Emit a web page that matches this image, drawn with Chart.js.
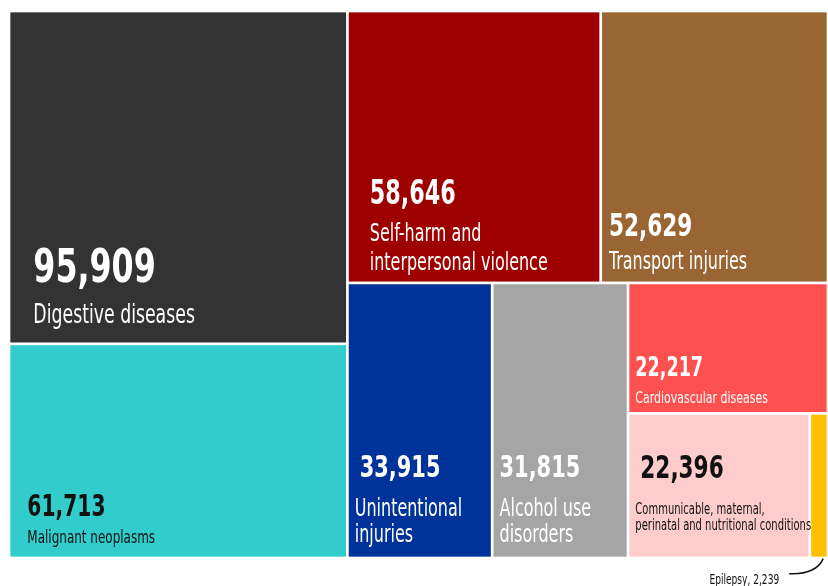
<!DOCTYPE html>
<html>
<head>
<meta charset="utf-8">
<script src="https://cdn.jsdelivr.net/npm/chart.js@4"></script>
<style>
  html, body { margin: 0; padding: 0; background: #fff; overflow: hidden; }
  .chart-box { position: relative; width: 828px; height: 586px; }
</style>
</head>
<body>
<div class="chart-box"><canvas id="treeChart"></canvas></div>
<script>
// deaths by cause, in the order the cells are packed
const causes = [
  'Digestive diseases',
  'Malignant neoplasms',
  'Self-harm and\ninterpersonal violence',
  'Transport injuries',
  'Unintentional\ninjuries',
  'Alcohol use\ndisorders',
  'Cardiovascular diseases',
  'Communicable, maternal,\nperinatal and nutritional conditions',
  'Epilepsy'
];
const deaths = [95909, 61713, 58646, 52629, 33915, 31815, 22217, 22396, 2239];
const colors = ['#333333', '#33cccc', '#9e0000', '#996633', '#003399', '#a5a5a5', '#ff5050', '#ffcccc', '#ffc000'];

// text placement inside each cell, measured from the cell's bottom-left corner
const labelStyle = [
  { ink: '#fff', vx: 23, vy: 60, vs: 47, lx: 23, ly: [19], ls: 26 },
  { ink: '#111', vx: 17, vy: 41, vs: 30, lx: 17, ly: [14], ls: 18 },
  { ink: '#fff', vx: 21, vy: 78, vs: 33, lx: 21, ly: [41, 11.5], ls: 24 },
  { ink: '#fff', vx: 7, vy: 46, vs: 32, lx: 7, ly: [12.7], ls: 24 },
  { ink: '#fff', vx: 11, vy: 80, vs: 31, lx: 6, ly: [41, 15], ls: 24 },
  { ink: '#fff', vx: 6, vy: 80, vs: 31, lx: 6, ly: [41, 15], ls: 24 },
  { ink: '#fff', vx: 6, vy: 36, vs: 26, lx: 6, ly: [9.4], ls: 16.5 },
  { ink: '#111', vx: 11, vy: 79, vs: 32, lx: 6, ly: [43, 27], ls: 15 },
  null
];

const fontFamily = "'DejaVu Sans Condensed', 'DejaVu Sans', sans-serif";
const valueSqueeze = 0.75;
const labelSqueeze = 0.74;
const gap = 2.7;

function worst(row, side) {
  const s = row.reduce((a, b) => a + b, 0);
  const mx = Math.max(...row), mn = Math.min(...row);
  return Math.max(side * side * mx / (s * s), s * s / (side * side * mn));
}

// squarified treemap, in scale units
function squarify(values, x, y, w, h) {
  const total = values.reduce((a, b) => a + b, 0);
  const areas = values.map(v => v * w * h / total);
  const rects = [];
  let i = 0;
  while (i < areas.length) {
    const side = Math.min(w, h);
    let row = [areas[i]];
    let j = i + 1;
    while (j < areas.length) {
      const next = row.concat(areas[j]);
      if (worst(next, side) > worst(row, side)) break;
      row = next;
      j++;
    }
    const thick = row.reduce((a, b) => a + b, 0) / side;
    let off = 0;
    row.forEach(a => {
      const len = a / thick;
      if (w >= h) rects.push({ x: x, y: y + off, w: thick, h: len });
      else rects.push({ x: x + off, y: y, w: len, h: thick });
      off += len;
    });
    if (w >= h) { x += thick; w -= thick; } else { y += thick; h -= thick; }
    i = j;
  }
  return rects;
}

// narrow text: the condensed face squeezed a bit more horizontally
function drawText(ctx, str, x, y, size, weight, color, squeeze, align) {
  ctx.save();
  ctx.translate(x, y);
  ctx.scale(squeeze, 1);
  ctx.font = weight + ' ' + size + 'px ' + fontFamily;
  ctx.fillStyle = color;
  ctx.textAlign = align || 'left';
  ctx.textBaseline = 'alphabetic';
  ctx.fillText(str, 0, 0);
  ctx.restore();
}

const treemapPlugin = {
  id: 'treemapCells',
  afterDatasetsDraw(chart) {
    const ctx = chart.ctx;
    const xs = chart.scales.x, ys = chart.scales.y;
    const rects = squarify(deaths, xs.min, ys.min, xs.max - xs.min, ys.max - ys.min);

    rects.forEach((r, i) => {
      const left = xs.getPixelForValue(r.x) + gap / 2;
      const right = xs.getPixelForValue(r.x + r.w) - gap / 2;
      const top = ys.getPixelForValue(r.y) + gap / 2;
      const bottom = ys.getPixelForValue(r.y + r.h) - gap / 2;
      ctx.fillStyle = colors[i];
      ctx.fillRect(left, top, right - left, bottom - top);

      const st = labelStyle[i];
      const value = deaths[i].toLocaleString('en-US');
      if (st) {
        drawText(ctx, value, left + st.vx, bottom - st.vy, st.vs, 'bold', st.ink, valueSqueeze);
        causes[i].split('\n').forEach((line, k) => {
          drawText(ctx, line, left + st.lx, bottom - st.ly[k], st.ls, 'normal', st.ink, labelSqueeze);
        });
      } else {
        // too small to hold text: label below with a leader line
        drawText(ctx, causes[i] + ', ' + value, left - 32, bottom + 27, 14, 'normal', '#111', 0.72, 'right');
        ctx.save();
        ctx.beginPath();
        ctx.moveTo(left - 22, bottom + 17);
        ctx.bezierCurveTo(left - 4, bottom + 18, left + 8, bottom + 12, left + 12, bottom + 2);
        ctx.strokeStyle = '#111';
        ctx.lineWidth = 1.5;
        ctx.stroke();
        ctx.restore();
      }
    });
  }
};

new Chart(document.getElementById('treeChart'), {
  type: 'scatter',
  data: {
    labels: causes,
    datasets: [{ data: [] }]
  },
  options: {
    responsive: true,
    maintainAspectRatio: false,
    animation: false,
    events: [],
    layout: {
      autoPadding: false,
      padding: { left: 9, top: 11, right: 0, bottom: 28 }
    },
    scales: {
      x: { type: 'linear', min: 0, max: 819, display: false },
      y: { type: 'linear', min: 0, max: 547, reverse: true, display: false }
    },
    plugins: {
      legend: { display: false },
      tooltip: { enabled: false }
    }
  },
  plugins: [treemapPlugin]
});
</script>
</body>
</html>
